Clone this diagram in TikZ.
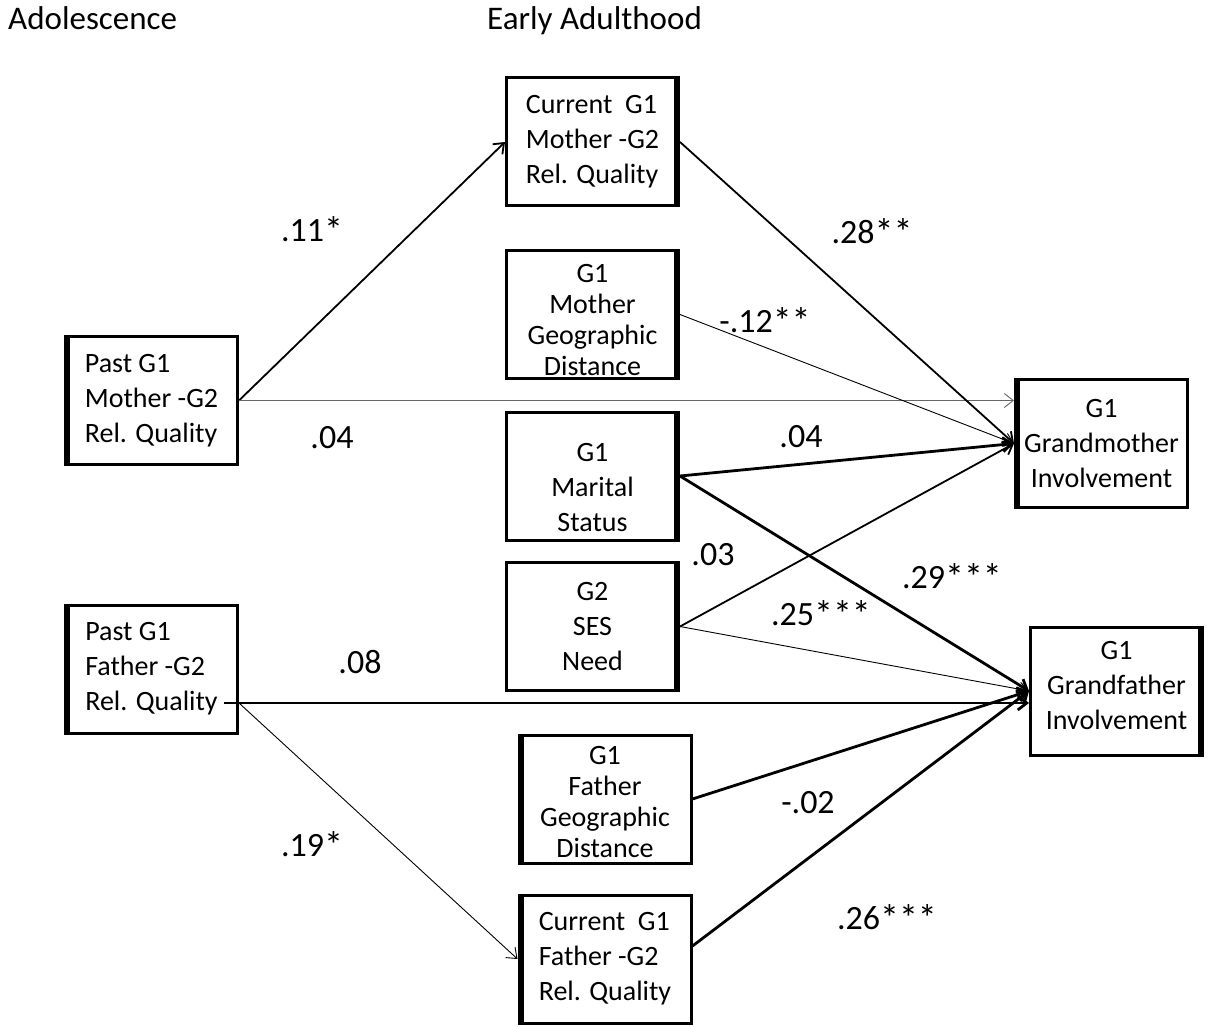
\documentclass[tikz,border=0pt]{standalone}
\usepackage{fontspec}
\setmainfont{Carlito}
\usetikzlibrary{arrows.meta,calc}
\newcommand\mystars[1]{\raisebox{-2pt}{\fontsize{38}{38}\selectfont #1}}
\begin{document}
\begin{tikzpicture}[x=1pt,y=-1pt,
  box/.style={draw,line width=3pt,minimum width=172pt,minimum height=128pt,inner sep=0pt,font=\fontsize{28}{35}\selectfont},
  boxgeo/.style={box,font=\fontsize{28}{31}\selectfont},
  boxtxt/.style={inner sep=0pt,align=center,font=\fontsize{28}{#1}\selectfont},
  boxtxt/.default=35,
  lab/.style={inner sep=0pt,font=\fontsize{34}{36}\selectfont},
  ttl/.style={inner sep=0pt,anchor=base west,font=\fontsize{33}{36}\selectfont},
  thinln/.style={line width=0.9pt},
  midln/.style={line width=1.8pt},
  thickln/.style={line width=2.8pt},
  tip/.style={-{Straight Barb[length=9pt,width=14pt]}}
]
\useasboundingbox[fill=white] (0,0) rectangle (1208,1027);

% titles
\node[ttl] (t1) at (8,30) {Adolescence};
\node[ttl] (t2) at (487,30) {Early Adulthood};

% boxes
\node[box,align=left] (cmo) at (592.5,142) {Current~~G1\\Mother -G2\\Rel. Quality};
\node[box,align=left] (pm) at (151.5,400.5) {Past G1\\Mother -G2\\Rel. Quality};
\node[box] (mgeo) at (592.5,314.5) {};
\node[boxtxt=31] (mgeot) at (592.5,320) {G1\\Mother\\Geographic\\Distance};
\node[box] (mar) at (592.5,476) {};
\node[boxtxt] (mart) at (592.5,488) {G1\\Marital\\Status};
\node[box,align=center] (ses) at (592.5,626.5) {G2\\SES\\Need};
\node[box] (fgeo) at (605,799) {};
\node[boxtxt=31] (fgeot) at (605,802) {G1\\Father\\Geographic\\Distance};
\node[box,align=left] (cfa) at (605,959) {Current~~G1\\Father -G2\\Rel. Quality};
\node[box,align=left] (pf) at (151.5,669) {Past G1\\Father -G2\\Rel. Quality};
\node[box,align=center] (gm) at (1101.5,443.5) {G1\\Grandmother\\Involvement};
\node[box] (gf) at (1116.5,691) {};
\node[boxtxt] (gft) at (1116.5,686) {G1\\Grandfather\\Involvement};

% thick sides
\foreach \n in {cmo,mgeo,mar,ses,gf}
  \draw[line width=6pt] ([xshift=-3pt]\n.north east) -- ([xshift=-3pt]\n.south east);
\foreach \n in {pm,pf,fgeo,cfa,gm}
  \draw[line width=6pt] ([xshift=3pt]\n.north west) -- ([xshift=3pt]\n.south west);

% connectors
\coordinate (pfq) at (224,703);
\draw[midln,tip] (pm.east) -- (cmo.west);
\draw[thinln,black!60,tip] (pm.east) -- (pm.east -| gm.west);
\draw[midln,tip] (cmo.east) -- (gm.west);
\draw[thinln,tip] (mgeo.east) -- (gm.west);
\draw[thickln,tip] (mar.east) -- (gm.west);
\draw[midln,tip] (ses.east) -- (gm.west);
\draw[thickln,tip] (mar.east) -- (gf.west);
\draw[thinln,tip] (ses.east) -- (gf.west);
\draw[thickln,tip] (pfq) -- (pfq -| gf.west);
\draw[thickln,tip] (fgeo.east) -- (gf.west);
\draw[thickln,tip] ($(cfa.east)+(0,-13)$) -- (gf.west);
\draw[thinln,tip] (pf.east |- pfq) -- (cfa.west);

% labels
\node[lab] (l1) at (312,230) {.11\mystars{*}};
\node[lab] (l2) at (872,232) {.28\mystars{**}};
\node[lab] (l3) at (765,321) {-.12\mystars{**}};
\node[lab] (l4) at (332,438) {.04};
\node[lab] (l5) at (801,437) {.04};
\node[lab] (l6) at (713,555) {.03};
\node[lab] (l7) at (952,577) {.29\mystars{***}};
\node[lab] (l8) at (821,614) {.25\mystars{***}};
\node[lab] (l9) at (360,662) {.08};
\node[lab] (l10) at (808,803) {-.02};
\node[lab] (l11) at (312,845) {.19\mystars{*}};
\node[lab] (l12) at (887,918) {.26\mystars{***}};
\end{tikzpicture}
\end{document}
